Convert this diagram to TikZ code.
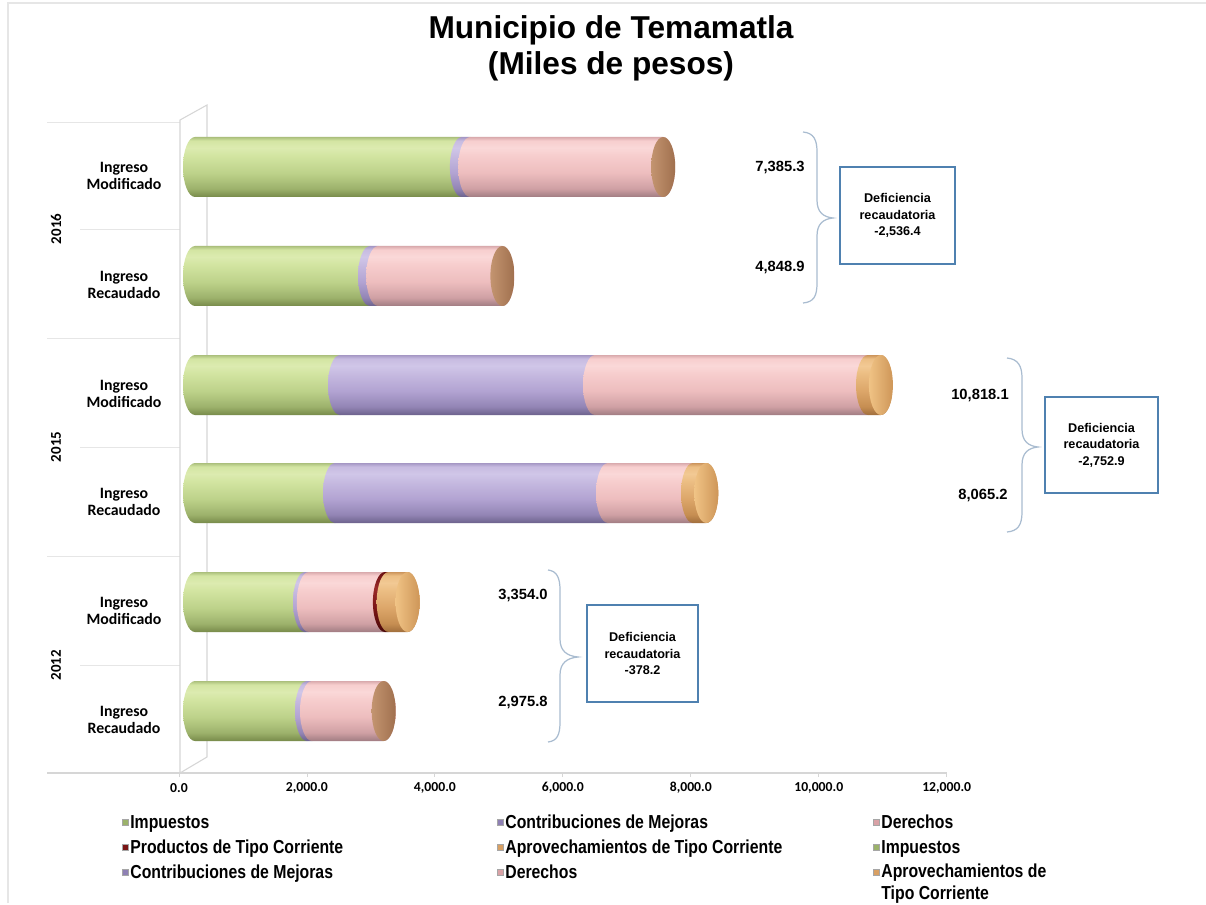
\documentclass[tikz,border=0pt]{standalone}
\usepackage{fontspec}
\setmainfont{Liberation Sans}
\newfontfamily\calib{Carlito}
\newfontfamily\narrowf[FakeStretch=0.84]{Liberation Sans}
\definecolor{gA}{HTML}{778A4A}\definecolor{gB}{HTML}{9DB26C}\definecolor{gC}{HTML}{BDD28A}
\definecolor{gD}{HTML}{D3E5A2}\definecolor{gE}{HTML}{DCEBB0}\definecolor{gF}{HTML}{ABBF7C}
\definecolor{pA}{HTML}{A07C82}\definecolor{pB}{HTML}{CFA0A4}\definecolor{pC}{HTML}{EDBDBE}
\definecolor{pD}{HTML}{F7CECE}\definecolor{pE}{HTML}{FAD8D8}\definecolor{pF}{HTML}{D9AAAD}
\definecolor{uA}{HTML}{6C628C}\definecolor{uB}{HTML}{9385B5}\definecolor{uC}{HTML}{B2A3D2}
\definecolor{uD}{HTML}{C7BBE1}\definecolor{uE}{HTML}{D0C6E8}\definecolor{uF}{HTML}{A597C4}
\definecolor{rA}{HTML}{4A0A0A}\definecolor{rB}{HTML}{7A1515}\definecolor{rC}{HTML}{9A2A2A}
\definecolor{rF}{HTML}{6A1010}
\definecolor{oA}{HTML}{A06E3C}\definecolor{oB}{HTML}{C68E52}\definecolor{oC}{HTML}{DCA669}
\definecolor{oD}{HTML}{ECBE84}\definecolor{oE}{HTML}{F2C994}\definecolor{oF}{HTML}{CC955C}
\definecolor{gridc}{HTML}{E6E6E6}\definecolor{framec}{HTML}{D6D6D6}
\definecolor{bracec}{HTML}{A9BCD0}\definecolor{boxc}{HTML}{4F81B0}
\definecolor{legG}{HTML}{9BB26A}\definecolor{legU}{HTML}{8E80B4}\definecolor{legP}{HTML}{D9A2A6}
\definecolor{legR}{HTML}{7A1515}\definecolor{legO}{HTML}{D9A063}
\definecolor{faceBl}{HTML}{C39470}\definecolor{faceBr}{HTML}{A0704E}
\definecolor{faceOl}{HTML}{F0C385}\definecolor{faceOr}{HTML}{CE9658}
\pgfdeclareverticalshading{cylG}{100bp}{color(0bp)=(gA); color(25bp)=(gA); color(32bp)=(gB); color(45bp)=(gC); color(60bp)=(gD); color(66bp)=(gE); color(72bp)=(gD); color(75bp)=(gF); color(100bp)=(gF)}
\pgfdeclareverticalshading{cylP}{100bp}{color(0bp)=(pA); color(25bp)=(pA); color(32bp)=(pB); color(45bp)=(pC); color(60bp)=(pD); color(66bp)=(pE); color(72bp)=(pD); color(75bp)=(pF); color(100bp)=(pF)}
\pgfdeclareverticalshading{cylU}{100bp}{color(0bp)=(uA); color(25bp)=(uA); color(32bp)=(uB); color(45bp)=(uC); color(60bp)=(uD); color(66bp)=(uE); color(72bp)=(uD); color(75bp)=(uF); color(100bp)=(uF)}
\pgfdeclareverticalshading{cylR}{100bp}{color(0bp)=(rA); color(25bp)=(rA); color(45bp)=(rB); color(62bp)=(rC); color(75bp)=(rF); color(100bp)=(rF)}
\pgfdeclareverticalshading{cylO}{100bp}{color(0bp)=(oA); color(25bp)=(oA); color(32bp)=(oB); color(45bp)=(oC); color(60bp)=(oD); color(66bp)=(oE); color(72bp)=(oD); color(75bp)=(oF); color(100bp)=(oF)}
\newcommand\seg[4]{\shade[shading=#4] (#2,{-#1+30}) arc[start angle=90,end angle=270,x radius=12,y radius=30] -- (#3,{-#1-30}) arc[start angle=-90,end angle=90,x radius=12,y radius=30] -- cycle;}
\newcommand\capface[3]{\shade[#3] (#2,-#1) ellipse[x radius=12,y radius=30];}
\tikzset{
  catlabel/.style={font=\calib\bfseries\fontsize{9}{9.7}\selectfont, align=center},
  yearlabel/.style={font=\calib\bfseries\fontsize{8.5}{10}\selectfont, rotate=90},
  ticklabel/.style={font=\calib\bfseries\fontsize{7.8}{9}\selectfont},
  vallabel/.style={font=\bfseries\fontsize{8.4}{10}\selectfont},
  defbox/.style={draw=boxc, line width=0.8pt, font=\bfseries\fontsize{7.2}{9.4}\selectfont, align=center, minimum width=2.3cm, minimum height=1.94cm, inner sep=0pt},
  bracestyle/.style={draw=bracec, line width=0.7pt},
  gridline/.style={draw=gridc, line width=0.5pt},
  frameline/.style={draw=framec, line width=0.6pt},
  legtext/.style={font=\narrowf\bfseries\fontsize{10.7}{12}\selectfont, anchor=base west, inner sep=0pt, align=left},
  legmark/.style={draw=gray!70, line width=0.2pt, minimum size=0.13cm, inner sep=0pt},
  fB/.style={left color=faceBl, right color=faceBr},
  fO/.style={left color=faceOl, right color=faceOr},
}
\begin{document}
\begin{tikzpicture}[x=0.02cm, y=0.02cm]
\useasboundingbox (0,0) rectangle (1206,-905);
\fill[white] (0,0) rectangle (1206,-905);
\draw[gridc, line width=0.6pt] (8,-903) -- (8,-3) -- (1206,-3);
% title
\node[font=\bfseries\fontsize{18}{20.4}\selectfont, align=center] (title) at (611,-48) {Municipio de Temamatla\\(Miles de pesos)};
% grid / separators
\foreach \yy in {122,338,556} \draw[gridline] (47,-\yy) -- (180,-\yy);
\foreach \yy in {229,447,665} \draw[gridline] (80,-\yy) -- (180,-\yy);
\draw[draw=framec, line width=0.6pt] (47,-773) -- (947,-773);
\foreach \k in {0,...,6} \draw[framec, line width=0.5pt] ({179+127.95*\k},-773) -- ({179+127.95*\k},-777);
% 3D wall frame
\draw[frameline] (180,-773) -- (180,-120) -- (207,-105) -- (207,-757) -- cycle;
% tick labels
\foreach \k/\t in {0/0.0,1/{2,000.0},2/{4,000.0},3/{6,000.0},4/{8,000.0},5/{10,000.0},6/{12,000.0}}
  \node[ticklabel] (t\k) at ({179+127.95*\k},-788) {\t};
% category labels
\node[catlabel] (c1) at (124,-176) {Ingreso\\Modificado};
\node[catlabel] (c2) at (124,-285) {Ingreso\\Recaudado};
\node[catlabel] (c3) at (124,-394) {Ingreso\\Modificado};
\node[catlabel] (c4) at (124,-502) {Ingreso\\Recaudado};
\node[catlabel] (c5) at (124,-611) {Ingreso\\Modificado};
\node[catlabel] (c6) at (124,-720) {Ingreso\\Recaudado};
\node[yearlabel] (y1) at (56,-229) {2016};
\node[yearlabel] (y2) at (56,-447) {2015};
\node[yearlabel] (y3) at (56,-665) {2012};
% bars
\seg{167}{195}{461.9}{cylG}\seg{167}{461.9}{470.2}{cylU}\seg{167}{470.2}{663.2}{cylP}\capface{167}{663.2}{fB}
\seg{276}{195}{370}{cylG}\seg{276}{370}{378.2}{cylU}\seg{276}{378.2}{502.4}{cylP}\capface{276}{502.4}{fB}
\seg{385}{195}{340}{cylG}\seg{385}{340}{595}{cylU}\seg{385}{595}{868}{cylP}\seg{385}{868}{880.9}{cylO}\capface{385}{880.9}{fO}
\seg{493}{195}{335}{cylG}\seg{493}{335}{608}{cylU}\seg{493}{608}{693}{cylP}\seg{493}{693}{706.3}{cylO}\capface{493}{706.3}{fO}
\seg{602}{195}{305}{cylG}\seg{602}{305}{308.8}{cylU}\seg{602}{308.8}{384.9}{cylP}\seg{602}{384.9}{388.7}{cylR}\seg{602}{388.7}{407.6}{cylO}\capface{602}{407.6}{fO}
\seg{711}{195}{307}{cylG}\seg{711}{307}{312}{cylU}\seg{711}{312}{383.7}{cylP}\capface{711}{383.7}{fB}
% braces, values, boxes
\draw[bracestyle] (803,-132) .. controls (814,-133) and (817,-140) .. (817,-152) -- (817,-200) .. controls (817,-212) and (823,-217) .. (833,-218) .. controls (823,-219) and (817,-224) .. (817,-236) -- (817,-283) .. controls (817,-296) and (814,-302) .. (803,-303);
\node[vallabel] (v1) at (780,-167) {7,385.3};
\node[vallabel] (v2) at (780,-267) {4,848.9};
\node[defbox] (b1) at (897.5,-215.5) {Deficiencia\\recaudatoria\\-2,536.4};
\draw[bracestyle] (1007,-358) .. controls (1018,-359) and (1022,-366) .. (1022,-378) -- (1022,-429) .. controls (1022,-441) and (1028,-446) .. (1038,-447) .. controls (1028,-448) and (1022,-453) .. (1022,-465) -- (1022,-512) .. controls (1022,-525) and (1018,-531) .. (1007,-532);
\node[vallabel] (v3) at (980,-395) {10,818.1};
\node[vallabel] (v4) at (983,-495) {8,065.2};
\node[defbox, minimum width=2.26cm, minimum height=1.92cm] (b2) at (1101.5,-445) {Deficiencia\\recaudatoria\\-2,752.9};
\draw[bracestyle] (548,-570) .. controls (557,-571) and (560,-578) .. (560,-590) -- (560,-639) .. controls (560,-651) and (567,-656) .. (578,-657) .. controls (567,-658) and (560,-663) .. (560,-675) -- (560,-722) .. controls (560,-735) and (557,-741) .. (548,-742);
\node[vallabel] (v5) at (523,-595) {3,354.0};
\node[vallabel] (v6) at (523,-702) {2,975.8};
\node[defbox, minimum width=2.22cm] (b3) at (642.5,-653.5) {Deficiencia\\recaudatoria\\-378.2};
% legend
\foreach \mx/\my/\mc/\mt/\nm in {125/822/legG/Impuestos/l1, 500/822/legU/Contribuciones de Mejoras/l2, 876/822/legP/Derechos/l3, 125/847/legR/Productos de Tipo Corriente/l4, 500/847/legO/Aprovechamientos de Tipo Corriente/l5, 876/847/legG/Impuestos/l6, 125/872/legU/Contribuciones de Mejoras/l7, 500/872/legP/Derechos/l8}{
  \node[legmark, fill=\mc] (\nm m) at (\mx,-\my) {};
  \node[legtext] (\nm) at (\mx+5,-\my-6) {\mt};
}
\node[legmark, fill=legO] (l9m) at (876,-872) {};
\node[legtext, anchor=north west] (l9) at (881,-864) {Aprovechamientos de\\Tipo Corriente};
\end{tikzpicture}
\end{document}
